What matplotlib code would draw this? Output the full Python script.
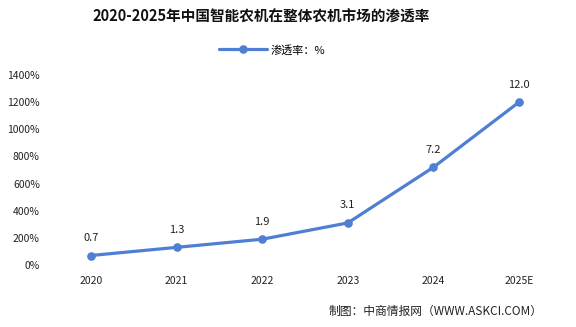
import matplotlib
matplotlib.use("Agg")
import matplotlib.pyplot as plt
from matplotlib.ticker import FuncFormatter

plt.rcParams['font.family'] = ['Noto Sans CJK SC', 'DejaVu Sans']

years = ["2020", "2021", "2022", "2023", "2024", "2025E"]
rate = [0.7, 1.3, 1.9, 3.1, 7.2, 12.0]
rate_labels = ["0.7", "1.3", "1.9", "3.1", "7.2", "12.0"]
yticks = [0, 200, 400, 600, 800, 1000, 1200, 1400]

W, H = 576, 327
fig = plt.figure(figsize=(W / 100, H / 100), dpi=100)
ax = fig.add_axes([48.2 / W, (H - 265) / H, (561.8 - 48.2) / W, 190 / H])

x = list(range(len(years)))
yvals = [v * 100 for v in rate]
color = '#4f7fd3'
line, = ax.plot(x, yvals, color=color, lw=2.3, marker='o', ms=5.2,
                markerfacecolor=color, markeredgecolor=color, solid_capstyle='round',
                label='渗透率：%')

for xi, yi, lab in zip(x, yvals, rate_labels):
    ax.annotate(lab, (xi, yi), xytext=(0, 9), textcoords='offset points',
                ha='center', va='bottom', fontsize=8, color='#222222')

ax.set_xlim(-0.5, len(years) - 0.5)
ax.set_ylim(0, 1400)
ax.set_xticks(x)
ax.set_xticklabels(years, fontsize=7.5, color='#222222')
ax.set_yticks(yticks)
ax.yaxis.set_major_formatter(FuncFormatter(lambda v, p: f"{int(v)}%"))
ax.tick_params(axis='y', labelsize=7.5, colors='#222222', length=0, pad=6)
ax.tick_params(axis='x', length=0, pad=8)
for s in ax.spines.values():
    s.set_visible(False)

fig.text(261 / W, 1 - 17 / H, "2020-2025年中国智能农机在整体农机市场的渗透率",
         ha='center', va='center', fontsize=10.5, fontweight='bold', color='#111111')

leg = fig.legend(handles=[line], loc='center', bbox_to_anchor=(272 / W, 1 - 50 / H),
                 frameon=False, fontsize=8, handlelength=4.4, handletextpad=0.3)

fig.text(543 / W, 1 - 311 / H, "制图：中商情报网（WWW.ASKCI.COM）",
         ha='right', va='center', fontsize=8.5, color='#222222')

fig.savefig("out.png", dpi=100, facecolor='white')
